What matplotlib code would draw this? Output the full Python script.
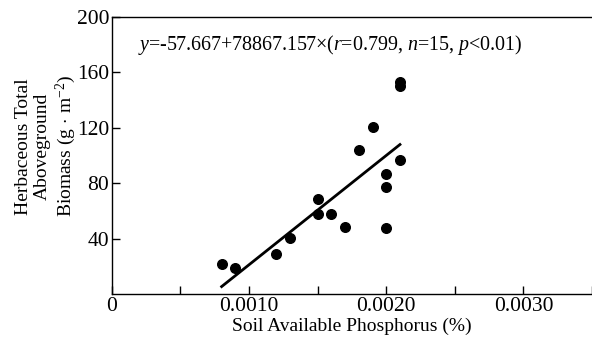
import numpy as np
import matplotlib
matplotlib.use('Agg')
import matplotlib.pyplot as plt

plt.rcParams['font.family'] = ['Liberation Serif', 'DejaVu Serif']
plt.rcParams['mathtext.fontset'] = 'custom'
plt.rcParams['mathtext.rm'] = 'Liberation Serif'
plt.rcParams['mathtext.it'] = 'Liberation Serif:italic'

# data
phosphorus = [0.0008, 0.0009, 0.0012, 0.0013, 0.0015, 0.0015, 0.0016, 0.0017,
              0.0018, 0.0019, 0.0020, 0.0020, 0.0020, 0.0021, 0.0021, 0.0021]
biomass = [21.5, 18.5, 29, 40.5, 69, 58, 58, 48.5,
           104, 120.5, 87, 77, 47.5, 97, 150, 153]
intercept = -57.667
slope = 78867.157
fit_x = [0.0008, 0.0021]

xticks = [0, 0.0005, 0.0010, 0.0015, 0.0020, 0.0025, 0.0030, 0.0035]
xticklabels = ['0', '', '0.0010', '', '0.0020', '', '0.0030', '']
yticks = [40, 80, 120, 160, 200]

fig = plt.figure(figsize=(5.92, 3.40), dpi=100)
ax = fig.add_axes([0.189, 0.135, 0.811, 0.815])

ax.scatter(phosphorus, biomass, s=48, c='black', zorder=3)
fx = np.array(fit_x)
ax.plot(fx, intercept + slope * fx, c='black', lw=2)

ax.set_xlim(0, 0.0035)
ax.set_ylim(0, 200)
ax.set_xticks(xticks)
ax.set_xticklabels(xticklabels)
ax.set_yticks(yticks)
ax.tick_params(direction='in', length=6, width=1, labelsize=15.5, pad=2)
ax.spines['right'].set_visible(False)
for s in ['left', 'bottom', 'top']:
    ax.spines[s].set_linewidth(1)

ax.set_xlabel('Soil Available Phosphorus (%)', fontsize=14, labelpad=1)
fig.text(0.079, 0.57,
         'Herbaceous Total\nAboveground\nBiomass (g$\\,\\cdot\\,$m$^{-2}$)',
         rotation=90, ha='center', va='center', ma='center',
         fontsize=14, linespacing=1.15)

ax.text(0.055, 0.9,
        '$y$=-57.667+78867.157$\\times$($r$=0.799, $n$=15, $p$<0.01)',
        transform=ax.transAxes, fontsize=14.4, va='center', ha='left')

fig.savefig('out.png', dpi=100)
